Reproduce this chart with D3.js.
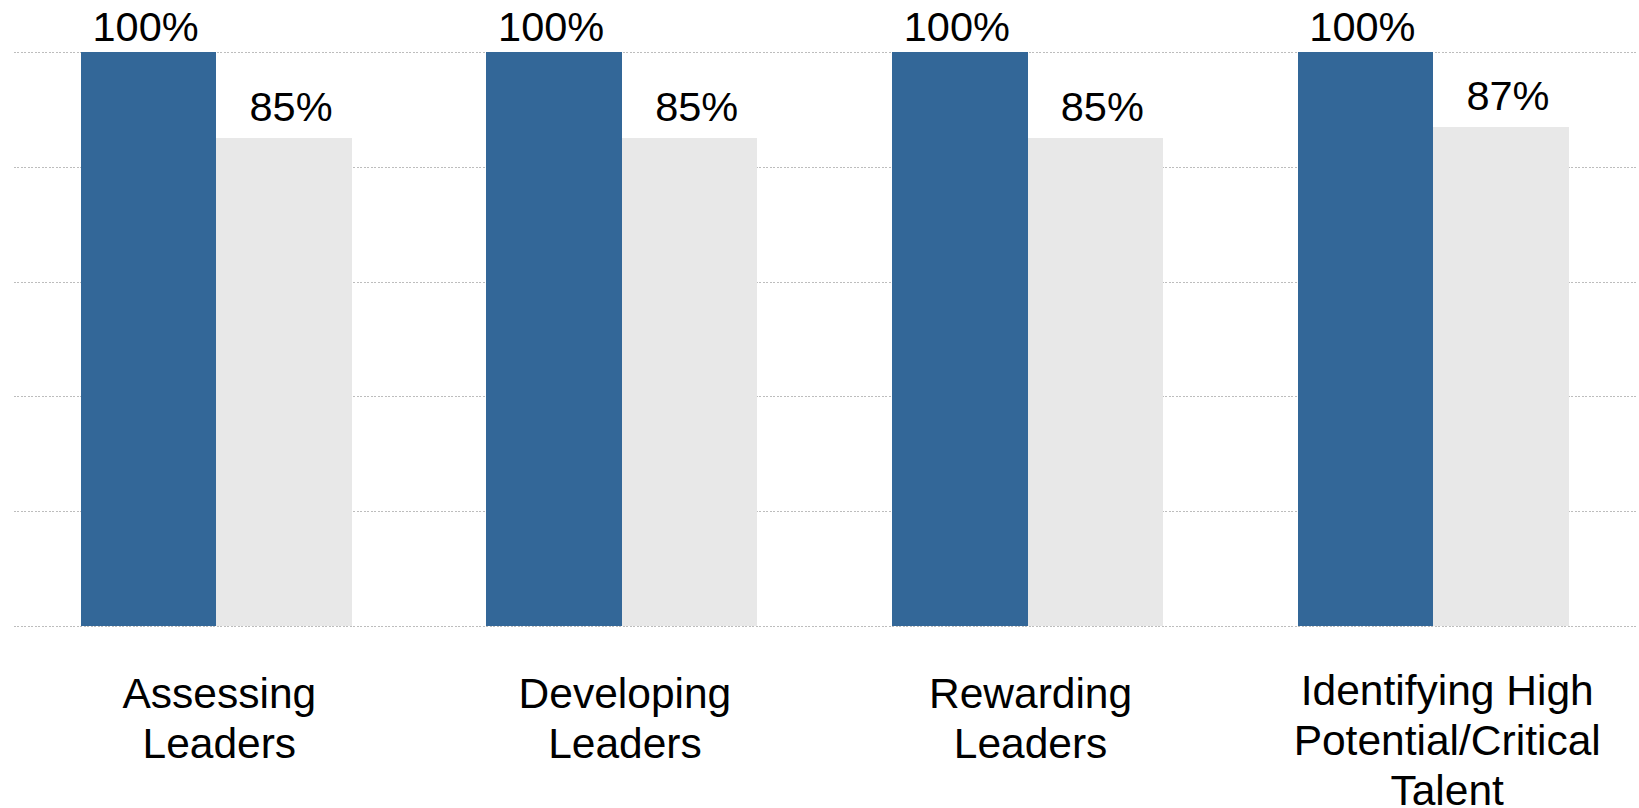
<!DOCTYPE html>
<html>
<head>
<meta charset="utf-8">
<script src="https://cdn.jsdelivr.net/npm/d3@7"></script>
<style>
  html, body { margin: 0; padding: 0; background: #fff; }
  svg { display: block; }
</style>
</head>
<body>
<svg id="chart" width="1639" height="808"></svg>
<script>
const categories = [
  ["Assessing", "Leaders"],
  ["Developing", "Leaders"],
  ["Rewarding", "Leaders"],
  ["Identifying High", "Potential/Critical", "Talent"]
];
const seriesNames = ["Series A", "Series B"];
const seriesA = [100, 100, 100, 100];
const seriesB = [85, 85, 85, 87];
const yTicks = [0, 20, 40, 60, 80, 100];

const colors = ["#336798", "#e8e8e8"];
const labelDx = [-3, 7];
const labelDy = [-11, -17];

const svg = d3.select("#chart");
const mLeft = 13.5, mRight = 1636, mTop = 52, mBottom = 626;

const catKeys = categories.map((c, i) => i);
const x0 = d3.scaleBand().domain(catKeys).range([mLeft, mRight]).paddingInner(0).paddingOuter(0);
const x1 = d3.scaleBand().domain([0, 1]).range([0, x0.bandwidth()]).paddingInner(0).paddingOuter(0.497);
const y = d3.scaleLinear().domain([0, 100]).range([mBottom, mTop]);

// gridlines
const yAxis = d3.axisLeft(y).tickValues(yTicks).tickSize(-(mRight - mLeft)).tickFormat("");
const ga = svg.append("g").attr("transform", `translate(${mLeft},0)`).call(yAxis);
ga.select(".domain").remove();
ga.selectAll(".tick line")
  .attr("stroke", "#bdbdbd")
  .attr("stroke-width", 1)
  .attr("stroke-dasharray", "2,1.5")
  .attr("shape-rendering", "crispEdges");

const data = catKeys.map(i => [seriesA[i], seriesB[i]]);

const groups = svg.append("g").selectAll("g")
  .data(data).join("g")
  .attr("transform", (d, i) => `translate(${x0(i)},0)`);

groups.selectAll("rect")
  .data(d => d.map((v, s) => ({v, s})))
  .join("rect")
  .attr("x", d => x1(d.s))
  .attr("width", x1.bandwidth())
  .attr("y", d => y(d.v))
  .attr("height", d => y(0) - y(d.v))
  .attr("fill", d => colors[d.s])
  .attr("shape-rendering", "crispEdges");

groups.selectAll("text.val")
  .data(d => d.map((v, s) => ({v, s})))
  .join("text")
  .attr("class", "val")
  .attr("x", d => x1(d.s) + x1.bandwidth() / 2 + labelDx[d.s])
  .attr("y", d => y(d.v) + labelDy[d.s])
  .attr("text-anchor", "middle")
  .attr("font-family", "Liberation Sans, Arial, sans-serif")
  .attr("font-size", 41.5)
  .attr("fill", "#000")
  .text(d => d.v + "%");

// category labels
const catG = svg.append("g");
categories.forEach((lines, i) => {
  const cx = x0(i) + x0.bandwidth() / 2 + (lines.length > 2 ? 14 : 3);
  const t = catG.append("text")
    .attr("x", cx)
    .attr("y", lines.length > 2 ? 705 : 708)
    .attr("text-anchor", "middle")
    .attr("font-family", "Liberation Sans, Arial, sans-serif")
    .attr("font-size", 42.5)
    .attr("fill", "#000");
  lines.forEach((ln, k) => {
    t.append("tspan").attr("x", cx).attr("dy", k === 0 ? 0 : 50).text(ln);
  });
});
</script>
</body>
</html>
